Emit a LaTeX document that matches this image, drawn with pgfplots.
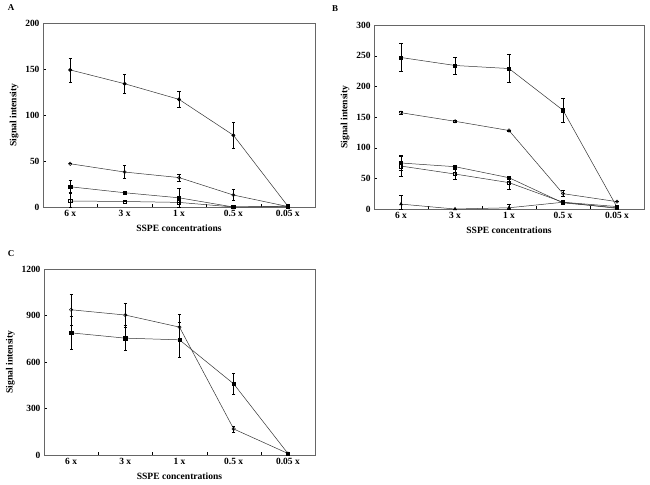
\documentclass[border=0pt]{standalone}
\usepackage{fontspec}
\setmainfont{Liberation Serif}
\usepackage{pgfplots}
\pgfplotsset{compat=1.18}
\pgfplotsset{
  panel/.style={
    scale only axis,
    xmin=-0.5, xmax=4.5, ymin=0,
    xtick={0,1,2,3,4},
    xticklabels={6 x,3 x,1 x,0.5 x,0.05 x},
    major x tick style={draw=none},
    minor xtick={0.5,1.5,2.5,3.5},
    tick align=inside,
    major tick length=3pt, minor tick length=3pt,
    xtick pos=bottom, ytick pos=left,
    axis line style={black!60},
    tick style={black},
    /pgf/number format/assume math mode=true,
    /pgf/number format/1000 sep={},
    tick label style={font=\bfseries\fontsize{9.5}{11}\selectfont},
    label style={font=\bfseries\fontsize{9.6}{11}\selectfont},
    xlabel={SSPE concentrations},
    ylabel={Signal intensity},
    xlabel style={yshift=-1pt},
    ylabel style={yshift=0pt},
    clip=false,
  },
  ser/.style={black!80, line width=0.5pt, mark size=1.7pt,
    error bars/.cd, y dir=both, y explicit,
    error bar style={black, line width=0.6pt},
    error mark options={black, rotate=90, mark size=1.6pt, line width=0.6pt}},
  fillm/.style={mark options={solid, black, fill=black}},
  open/.style={mark options={solid, black, fill=white}},
}
\begin{document}
\begin{tikzpicture}[x=1bp,y=1bp]
\path[use as bounding box] (0,-485) rectangle (650,0);
\node[font=\bfseries\fontsize{9}{10}\selectfont] at (11,-8) {A};
\node[font=\bfseries\fontsize{9}{10}\selectfont] at (335,-9) {B};
\node[font=\bfseries\fontsize{9}{10}\selectfont] at (11,-254) {C};

% Panel A
\begin{axis}[panel, at={(43bp,-207bp)}, anchor=south west, width=272bp, height=184bp,
  ymax=200, ytick={0,50,100,150,200}]
\addplot+[mark=*, fillm, ser] coordinates {(0,149) +- (0,13) (1,134) +- (0,10) (2,117) +- (0,8.5) (3,78) +- (0,14) (4,1) +- (0,0)};
\addplot+[mark=o, open, ser] coordinates {(0,47) +- (0,0) (1,38) +- (0,7) (2,32) +- (0,4) (3,13) +- (0,6) (4,0.5) +- (0,0)};
\addplot+[mark=square*, fillm, ser] coordinates {(0,22) +- (0,7) (1,15.5) +- (0,0) (2,10) +- (0,10) (3,0) +- (0,0) (4,1) +- (0,0)};
\addplot+[mark=square, open, ser] coordinates {(0,6.5) += (0,9) -= (0,6.5) (1,6) +- (0,0) (2,5) +- (0,0) (3,0) +- (0,0) (4,0.5) +- (0,0)};
\end{axis}

% Panel B
\begin{axis}[panel, at={(374bp,-209bp)}, anchor=south west, width=270bp, height=184bp,
  ymax=300, ytick={0,50,100,150,200,250,300}]
\addplot+[mark=square*, fillm, ser] coordinates {(0,247) +- (0,23) (1,234) +- (0,14) (2,229) +- (0,23) (3,161) +- (0,19) (4,3) +- (0,0)};
\addplot+[mark=o, open, ser] coordinates {(0,157) +- (0,3) (1,143) +- (0,1) (2,128) +- (0,1) (3,25) +- (0,5) (4,12) +- (0,0)};
\addplot+[mark=square*, fillm, ser] coordinates {(0,75) +- (0,12) (1,69) +- (0,3) (2,51) +- (0,3) (3,10) +- (0,0) (4,2) +- (0,0)};
\addplot+[mark=square, open, ser] coordinates {(0,70) +- (0,16) (1,57) +- (0,8) (2,43) +- (0,11) (3,11) +- (0,0) (4,4) +- (0,0)};
\addplot+[mark=triangle*, fillm, ser] coordinates {(0,8) += (0,15) -= (0,8) (1,0) +- (0,0) (2,2) += (0,5) -= (0,2) (3,11) +- (0,0) (4,1) +- (0,0)};
\end{axis}

% Panel C
\begin{axis}[panel, at={(44bp,-455bp)}, anchor=south west, width=271bp, height=186bp,
  ymax=1200, ytick={0,300,600,900,1200}]
\addplot+[mark=o, open, ser] coordinates {(0,937) +- (0,97) (1,903) +- (0,78) (2,825) +- (0,85) (3,168) +- (0,20) (4,10) +- (0,0)};
\addplot+[mark=square*, fillm, ser] coordinates {(0,788) +- (0,108) (1,754) +- (0,80) (2,743) +- (0,112) (3,459) +- (0,67) (4,10) +- (0,0)};
\end{axis}
\end{tikzpicture}
\end{document}
